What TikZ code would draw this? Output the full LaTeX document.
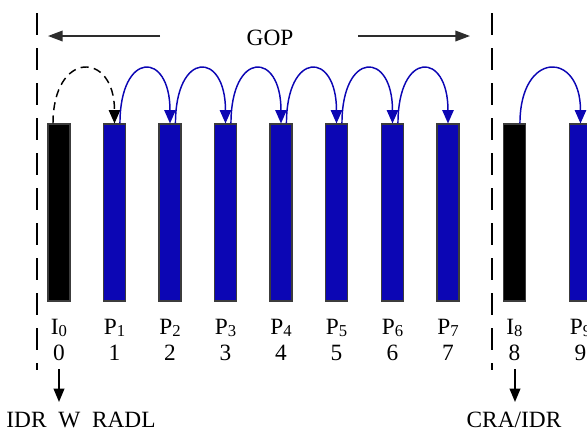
\documentclass[tikz,border=0pt]{standalone}
\usepackage{fontspec}
\setmainfont{Liberation Serif}
\usetikzlibrary{arrows.meta}
\definecolor{barblue}{RGB}{12,6,180}
\definecolor{edgegray}{RGB}{60,60,60}
\definecolor{linegray}{RGB}{45,45,45}
\newcommand{\framesub}[1]{\raisebox{-2.2pt}{\fontsize{12.5}{14}\selectfont #1}}
\begin{document}
\begin{tikzpicture}[x=0.75pt,y=-0.75pt,
  bar/.style={draw=edgegray, line width=0.8pt, minimum width=16.5pt, minimum height=132.75pt, inner sep=0pt},
  iframe/.style={bar, fill=black},
  pframe/.style={bar, fill=barblue},
  lbl/.style={font=\fontsize{17.5}{20}\selectfont, inner sep=0pt, anchor=base},
  refarc/.style={barblue, line width=1.1pt, -{Triangle[length=10pt,width=8.5pt]}},
  dasharc/.style={black, line width=1.1pt, dash pattern=on 6pt off 4pt, -{Triangle[length=10pt,width=8.5pt]}},
  sepline/.style={black, line width=1.1pt, dash pattern=on 16.5pt off 9.75pt},
  gopar/.style={linegray, line width=1.1pt, -{Triangle[length=11pt,width=8pt]}},
  downar/.style={black, line width=1.1pt, -{Triangle[length=10pt,width=8pt]}}
]
\useasboundingbox (0,0) rectangle (587,430);

% separators
\coordinate (s1t) at (37,13);
\coordinate (s1b) at (37,370);
\coordinate (s2t) at (492,13);
\coordinate (s2b) at (492,370);
\draw[sepline] (s1t) -- (s1b);
\draw[sepline] (s2t) -- (s2b);

% GOP
\node[lbl] (gop) at (270,45) {GOP};
\coordinate (gla) at (160,36);
\coordinate (glb) at (48,36);
\coordinate (gra) at (358,36);
\coordinate (grb) at (470,36);
\draw[gopar] (gla) -- (glb);
\draw[gopar] (gra) -- (grb);

% bars
\node[iframe] (b0) at (59,212.5) {};
\node[pframe] (b1) at (114.5,212.5) {};
\node[pframe] (b2) at (170,212.5) {};
\node[pframe] (b3) at (225.5,212.5) {};
\node[pframe] (b4) at (281,212.5) {};
\node[pframe] (b5) at (336.5,212.5) {};
\node[pframe] (b6) at (392.5,212.5) {};
\node[pframe] (b7) at (448,212.5) {};
\node[iframe] (b8) at (514.5,212.5) {};
\node[pframe] (b9) at (580.5,212.5) {};

% arcs
\draw[dasharc] ([xshift=-4.5pt]b0.north) .. controls +(0,-73) and +(0,-73) .. (b1.north);
\foreach \a/\b in {1/2,2/3,3/4,4/5,5/6,6/7,8/9}{
  \draw[refarc] ([xshift=4.1pt]b\a.north) .. controls +(0,-73) and +(0,-73) .. (b\b.north);
}

% labels
\node[lbl] (l0) at (59,334) {I\framesub{0}};
\node[lbl] (l1) at (114.5,334) {P\framesub{1}};
\node[lbl] (l2) at (170,334) {P\framesub{2}};
\node[lbl] (l3) at (225.5,334) {P\framesub{3}};
\node[lbl] (l4) at (281,334) {P\framesub{4}};
\node[lbl] (l5) at (336.5,334) {P\framesub{5}};
\node[lbl] (l6) at (392.5,334) {P\framesub{6}};
\node[lbl] (l7) at (448,334) {P\framesub{7}};
\node[lbl] (l8) at (514.5,334) {I\framesub{8}};
\node[lbl] (l9) at (580.5,334) {P\framesub{9}};
\node[lbl] (n0) at (59,360) {0};
\node[lbl] (n1) at (114.5,360) {1};
\node[lbl] (n2) at (170,360) {2};
\node[lbl] (n3) at (225.5,360) {3};
\node[lbl] (n4) at (281,360) {4};
\node[lbl] (n5) at (336.5,360) {5};
\node[lbl] (n6) at (392.5,360) {6};
\node[lbl] (n7) at (448,360) {7};
\node[lbl] (n8) at (514.5,360) {8};
\node[lbl] (n9) at (580.5,360) {9};

% bottom
\node[lbl] (idr) at (81,427) {IDR\ \ W\ \ RADL};
\node[lbl] (cra) at (514,427) {CRA/IDR};
\coordinate (d0a) at (59,369);
\coordinate (d0b) at (59,402);
\coordinate (d8a) at (515,369);
\coordinate (d8b) at (515,402);
\draw[downar] (d0a) -- (d0b);
\draw[downar] (d8a) -- (d8b);
\end{tikzpicture}
\end{document}
